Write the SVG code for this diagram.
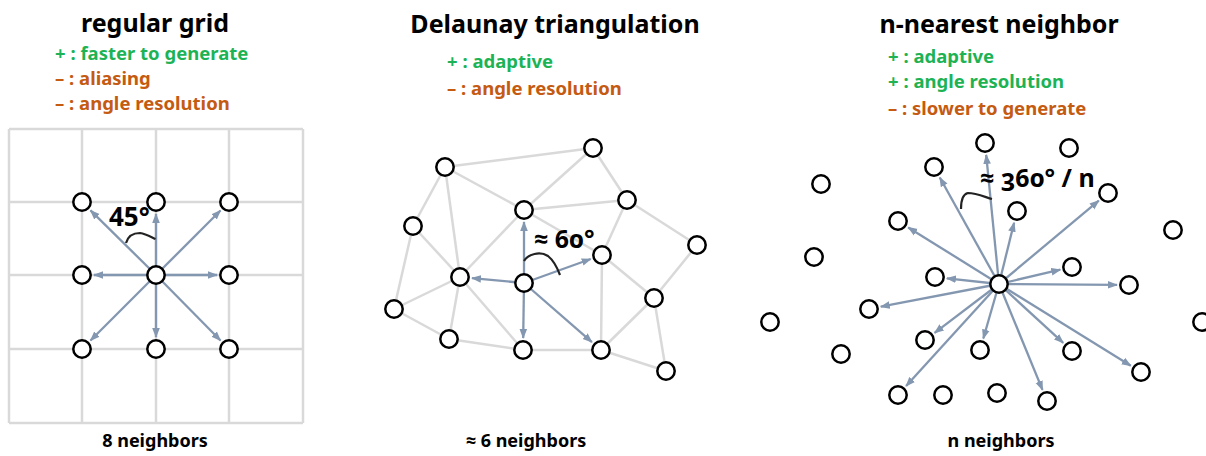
<svg xmlns="http://www.w3.org/2000/svg" width="1206" height="456" viewBox="0 0 1206 456">
<style>
text{font-family:"Noto Sans","Open Sans",sans-serif;font-weight:bold}
.title{font-size:25px;fill:#000;text-anchor:middle}
.pro{font-size:18.5px;fill:#1db355}
.con{font-size:18.5px;fill:#c55a11}
.foot{font-size:18px;fill:#000;text-anchor:middle}
.ang{font-size:25px;fill:#000;font-variant-numeric:oldstyle-nums}
.ang45{font-size:26px;fill:#000}
.grid line{stroke:#d9d9d9;stroke-width:2.5}
.edge line{stroke:#d9d9d9;stroke-width:2.5}
.arr line{stroke:#8497b0;stroke-width:2.3;marker-end:url(#ah)}
.arc{fill:none;stroke:#222;stroke-width:2.2}
circle{fill:#fff;stroke:#000;stroke-width:2.5}
</style>
<defs>
<marker id="ah" markerUnits="userSpaceOnUse" markerWidth="11" markerHeight="9" refX="9" refY="4.5" orient="auto">
<path d="M0,0.7 L10,4.5 L0,8.3 z" fill="#8497b0"/>
</marker>
</defs>
<rect width="1206" height="456" fill="#fff"/>

<!-- Texts -->
<g id="titles">
<text class="title" x="155" y="32">regular grid</text>
<text class="title" x="555" y="33">Delaunay triangulation</text>
<text class="title" x="999" y="33">n-nearest neighbor</text>
</g>
<g id="pros-cons">
<text class="pro" x="55" y="60">+ : faster to generate</text>
<text class="con" x="55" y="85">– : aliasing</text>
<text class="con" x="55" y="110">– : angle resolution</text>
<text class="pro" x="447" y="68">+ : adaptive</text>
<text class="con" x="447" y="95">– : angle resolution</text>
<text class="pro" x="888" y="63">+ : adaptive</text>
<text class="pro" x="888" y="88">+ : angle resolution</text>
<text class="con" x="888" y="115">– : slower to generate</text>
</g>
<g id="footers">
<text class="foot" x="155" y="447">8 neighbors</text>
<text class="foot" x="526" y="447">≈ 6 neighbors</text>
<text class="foot" x="1001" y="447">n neighbors</text>
</g>

<!-- Regular grid -->
<g id="grid" class="grid">
<line x1="9" y1="129" x2="9" y2="423"/>
<line x1="82" y1="129" x2="82" y2="423"/>
<line x1="156" y1="129" x2="156" y2="423"/>
<line x1="229" y1="129" x2="229" y2="423"/>
<line x1="303" y1="129" x2="303" y2="423"/>
<line x1="9" y1="129" x2="303" y2="129"/>
<line x1="9" y1="202" x2="303" y2="202"/>
<line x1="9" y1="275" x2="303" y2="275"/>
<line x1="9" y1="349" x2="303" y2="349"/>
<line x1="9" y1="423" x2="303" y2="423"/>
</g>

<!-- Delaunay edges -->
<g id="delaunay-edges" class="edge">
<line x1="445" y1="167" x2="593" y2="148"/>
<line x1="445" y1="167" x2="413" y2="226"/>
<line x1="445" y1="167" x2="524" y2="210"/>
<line x1="445" y1="167" x2="460" y2="277"/>
<line x1="593" y1="148" x2="524" y2="210"/>
<line x1="593" y1="148" x2="627" y2="200"/>
<line x1="524" y1="210" x2="627" y2="200"/>
<line x1="524" y1="210" x2="602" y2="255"/>
<line x1="524" y1="210" x2="460" y2="277"/>
<line x1="627" y1="200" x2="602" y2="255"/>
<line x1="627" y1="200" x2="697" y2="245"/>
<line x1="697" y1="245" x2="654" y2="298"/>
<line x1="602" y1="255" x2="654" y2="298"/>
<line x1="602" y1="255" x2="601" y2="350"/>
<line x1="654" y1="298" x2="601" y2="350"/>
<line x1="654" y1="298" x2="666" y2="371"/>
<line x1="601" y1="350" x2="666" y2="371"/>
<line x1="413" y1="226" x2="460" y2="277"/>
<line x1="413" y1="226" x2="394" y2="309"/>
<line x1="460" y1="277" x2="394" y2="309"/>
<line x1="460" y1="277" x2="449" y2="339"/>
<line x1="460" y1="277" x2="523" y2="350"/>
<line x1="394" y1="309" x2="449" y2="339"/>
<line x1="449" y1="339" x2="523" y2="350"/>
<line x1="523" y1="350" x2="601" y2="350"/>
</g>

<!-- Connectors (arrows) -->
<g id="connectors" class="arr">
<line x1="156" y1="275" x2="90.5" y2="210.4"/>
<line x1="156" y1="275" x2="156" y2="214"/>
<line x1="156" y1="275" x2="220.5" y2="210.5"/>
<line x1="156" y1="275" x2="94" y2="275"/>
<line x1="156" y1="275" x2="217" y2="275"/>
<line x1="156" y1="275" x2="90.5" y2="340.5"/>
<line x1="156" y1="275" x2="156" y2="337"/>
<line x1="156" y1="275" x2="220.5" y2="340.5"/>

<line x1="524" y1="283" x2="524" y2="222"/>
<line x1="524" y1="283" x2="472" y2="278.1"/>
<line x1="524" y1="283" x2="590.7" y2="259"/>
<line x1="524" y1="283" x2="523.2" y2="338"/>
<line x1="524" y1="283" x2="591.9" y2="342.1"/>

<line x1="999" y1="284" x2="986.2" y2="154.9"/>
<line x1="999" y1="284" x2="939.8" y2="177.5"/>
<line x1="999" y1="284" x2="1098.8" y2="200.7"/>
<line x1="999" y1="284" x2="1014.1" y2="222.7"/>
<line x1="999" y1="284" x2="908.2" y2="227.4"/>
<line x1="999" y1="284" x2="1060.3" y2="269.7"/>
<line x1="999" y1="284" x2="946.9" y2="278.3"/>
<line x1="999" y1="284" x2="1117" y2="284.9"/>
<line x1="999" y1="284" x2="880.8" y2="306.7"/>
<line x1="999" y1="284" x2="934.6" y2="332.8"/>
<line x1="999" y1="284" x2="906.1" y2="386.1"/>
<line x1="999" y1="284" x2="983.3" y2="338.5"/>
<line x1="999" y1="284" x2="1042.5" y2="389.9"/>
<line x1="999" y1="284" x2="1063.2" y2="342.9"/>
<line x1="999" y1="284" x2="1130.8" y2="365.7"/>
</g>

<!-- Angle markers -->
<g id="angles">
<path class="arc" d="M126,243 C128,236 133,233 140,233 C146,234 151,237 155.5,239"/>
<text class="ang45" x="109" y="226">45°</text>
<path class="arc" d="M524,261 C528,254 540,251 548,256 C553,260 557,267 560,275"/>
<text class="ang" x="534" y="248">≈ 60°</text>
<path class="arc" d="M961,209 C961,201 963,194 968,193 C976,193 985,197 992,199"/>
<text class="ang" x="980" y="187">≈ 360° / n</text>
</g>

<!-- Grid nodes -->
<g id="grid-nodes">
<circle id="g1" cx="82" cy="202" r="8.7"/>
<circle id="g2" cx="156" cy="202" r="8.7"/>
<circle id="g3" cx="229" cy="202" r="8.7"/>
<circle id="g4" cx="82" cy="275" r="8.7"/>
<circle id="g5" cx="156" cy="275" r="8.7"/>
<circle id="g6" cx="229" cy="275" r="8.7"/>
<circle id="g7" cx="82" cy="349" r="8.7"/>
<circle id="g8" cx="156" cy="349" r="8.7"/>
<circle id="g9" cx="229" cy="349" r="8.7"/>
</g>

<!-- Delaunay nodes -->
<g id="delaunay-nodes">
<circle id="dA" cx="445" cy="167" r="8.7"/>
<circle id="dB" cx="593" cy="148" r="8.7"/>
<circle id="dC" cx="413" cy="226" r="8.7"/>
<circle id="dD" cx="524" cy="210" r="8.7"/>
<circle id="dE" cx="627" cy="200" r="8.7"/>
<circle id="dF" cx="697" cy="245" r="8.7"/>
<circle id="dG" cx="602" cy="255" r="8.7"/>
<circle id="dH" cx="460" cy="277" r="8.7"/>
<circle id="dI" cx="524" cy="283" r="8.7"/>
<circle id="dJ" cx="394" cy="309" r="8.7"/>
<circle id="dK" cx="654" cy="298" r="8.7"/>
<circle id="dL" cx="449" cy="339" r="8.7"/>
<circle id="dM" cx="523" cy="350" r="8.7"/>
<circle id="dN" cx="601" cy="350" r="8.7"/>
<circle id="dO" cx="666" cy="371" r="8.7"/>
</g>

<!-- Nearest neighbor nodes -->
<g id="nn-nodes">
<circle id="n0" cx="999" cy="284" r="8.7"/>
<circle id="n1" cx="985" cy="143" r="8.7"/>
<circle id="n2" cx="1069" cy="148" r="8.7"/>
<circle id="n3" cx="934" cy="167" r="8.7"/>
<circle id="n4" cx="821" cy="184" r="8.7"/>
<circle id="n5" cx="1108" cy="193" r="8.7"/>
<circle id="n6" cx="1017" cy="211" r="8.7"/>
<circle id="n7" cx="898" cy="221" r="8.7"/>
<circle id="n8" cx="1173" cy="230" r="8.7"/>
<circle id="n9" cx="814" cy="257" r="8.7"/>
<circle id="n10" cx="1072" cy="267" r="8.7"/>
<circle id="n11" cx="935" cy="277" r="8.7"/>
<circle id="n12" cx="1129" cy="285" r="8.7"/>
<circle id="n13" cx="869" cy="309" r="8.7"/>
<circle id="n14" cx="770" cy="322" r="8.7"/>
<circle id="n15" cx="1202" cy="322" r="8.7"/>
<circle id="n16" cx="925" cy="340" r="8.7"/>
<circle id="n17" cx="841" cy="354" r="8.7"/>
<circle id="n18" cx="980" cy="350" r="8.7"/>
<circle id="n19" cx="1072" cy="351" r="8.7"/>
<circle id="n20" cx="1141" cy="372" r="8.7"/>
<circle id="n21" cx="898" cy="395" r="8.7"/>
<circle id="n22" cx="943" cy="395" r="8.7"/>
<circle id="n23" cx="997" cy="393" r="8.7"/>
<circle id="n24" cx="1047" cy="401" r="8.7"/>
</g>
</svg>
